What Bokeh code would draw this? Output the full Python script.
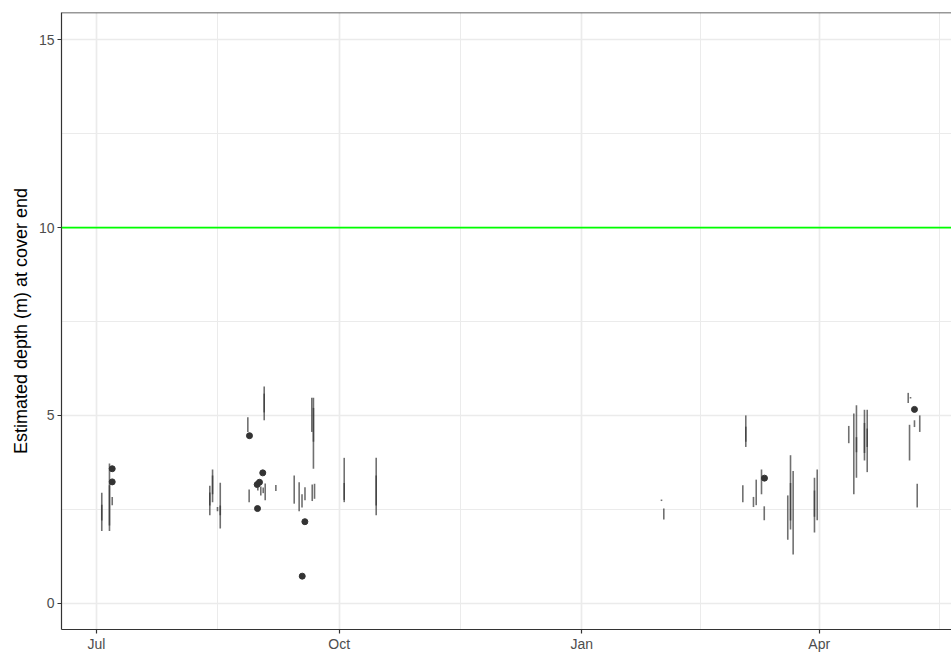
import pandas as pd
from bokeh.plotting import figure
from bokeh.models import ColumnDataSource, Range1d, FixedTicker, DatetimeTickFormatter, Span
from bokeh.embed import file_html
from bokeh.resources import INLINE

# ---- data: depth ranges (segments) ----
seg_dates = [
    "2020-07-03 00:00", "2020-07-03 00:00", "2020-07-05 22:00", "2020-07-05 22:00",
    "2020-07-06 23:00", "2020-08-12 23:00", "2020-08-12 23:00", "2020-08-14 00:00",
    "2020-08-14 00:00", "2020-08-15 21:00", "2020-08-16 22:00", "2020-08-16 22:00",
    "2020-08-27 09:00", "2020-08-27 21:00", "2020-08-31 04:00", "2020-09-01 07:00",
    "2020-09-02 05:00", "2020-09-02 14:00", "2020-09-02 14:00", "2020-09-02 23:00",
    "2020-09-07 00:00", "2020-09-13 23:00", "2020-09-15 20:00", "2020-09-16 22:00",
    "2020-09-18 01:00", "2020-09-20 15:00", "2020-09-20 19:00", "2020-09-21 06:00",
    "2020-09-21 06:00", "2020-09-21 16:00", "2020-10-02 22:00", "2020-10-02 22:00",
    "2020-10-15 01:00", "2020-10-15 01:00", "2021-01-31 05:00", "2021-02-01 02:00",
    "2021-03-03 01:00", "2021-03-04 04:00", "2021-03-04 04:00", "2021-03-07 02:00",
    "2021-03-08 03:00", "2021-03-10 03:00", "2021-03-11 04:00", "2021-03-20 02:00",
    "2021-03-21 03:00", "2021-03-21 03:00", "2021-03-22 03:00", "2021-03-30 05:00",
    "2021-03-30 05:00", "2021-03-31 06:00", "2021-04-12 05:00", "2021-04-14 03:00",
    "2021-04-15 03:00", "2021-04-15 03:00", "2021-04-18 04:00", "2021-04-18 04:00",
    "2021-04-19 05:00", "2021-04-19 05:00", "2021-05-04 18:00", "2021-05-05 06:00",
    "2021-05-05 15:00", "2021-05-07 03:00", "2021-05-08 04:00", "2021-05-09 03:00",
]
seg_low = [
    1.92, 2.20, 1.92, 2.07,
    2.61, 2.34, 2.60, 2.69,
    2.90, 2.45, 1.99, 2.34,
    4.56, 2.69, 3.00, 2.87,
    2.93, 4.87, 5.08, 2.74,
    2.99, 2.65, 2.45, 2.55,
    2.74, 4.56, 2.72, 3.58,
    4.30, 2.78, 2.69, 2.75,
    2.34, 2.60, 2.72, 2.23,
    2.69, 4.16, 4.30, 2.56,
    2.61, 2.90, 2.21, 1.69,
    1.96, 2.20, 1.30, 1.88,
    2.30, 2.21, 4.26, 2.90,
    3.34, 4.02, 3.80, 4.00,
    3.49, 4.16, 5.33, 3.80,
    5.45, 4.69, 2.55, 4.56,
]
seg_high = [
    2.94, 2.62, 3.72, 3.14,
    2.83, 3.13, 2.95, 3.56,
    3.40, 2.56, 3.21, 2.60,
    4.95, 3.03, 3.08, 3.11,
    3.08, 5.77, 5.58, 3.19,
    3.15, 3.40, 3.22, 2.90,
    3.09, 5.47, 3.16, 5.47,
    5.20, 3.18, 3.87, 3.20,
    3.87, 3.40, 2.76, 2.52,
    3.14, 5.00, 4.70, 2.83,
    3.29, 3.56, 2.58, 2.87,
    3.94, 3.20, 3.52, 3.34,
    3.00, 3.56, 4.72, 5.05,
    5.27, 4.42, 5.15, 4.80,
    5.15, 4.65, 5.60, 4.75,
    5.49, 4.87, 3.18, 5.00,
]

# ---- data: single estimates (points) ----
pt_dates = [
    "2020-07-06 23:00", "2020-07-06 23:00", "2020-08-28 00:00", "2020-08-30 22:00",
    "2020-08-31 19:00", "2020-09-02 01:00", "2020-08-31 01:00", "2020-09-18 00:00",
    "2020-09-17 00:00", "2021-03-11 06:00", "2021-05-07 03:00",
]
pt_values = [3.58, 3.23, 4.46, 3.16, 3.22, 3.47, 2.52, 2.17, 0.72, 3.33, 5.16]

threshold = 10

x_major = ["2020-07-01", "2020-10-01", "2021-01-01", "2021-04-01"]
x_minor = ["2020-08-16", "2020-11-16", "2021-02-15", "2021-05-16 12:00"]
y_major = [0, 5, 10, 15]
y_minor = [2.5, 7.5, 12.5]
y_title = "Estimated depth (m) at cover end"

Y_START, Y_END = -0.70, 15.727


def ms(s):
    return pd.Timestamp(s).value / 1e6


seg_src = ColumnDataSource(dict(x=pd.to_datetime(seg_dates), lo=seg_low, hi=seg_high))
pt_src = ColumnDataSource(dict(x=pd.to_datetime(pt_dates), y=pt_values))

p = figure(width=951, height=654, output_backend="svg", toolbar_location=None,
           x_axis_type="datetime",
           x_range=Range1d(pd.Timestamp("2020-07-01") - pd.Timedelta(days=13.27),
                           pd.Timestamp("2020-07-01") + pd.Timedelta(days=324.16)),
           y_range=Range1d(Y_START, Y_END),
           min_border_left=61, min_border_right=0, min_border_top=12, min_border_bottom=25)

p.background_fill_color = "white"
p.border_fill_color = "white"
p.outline_line_color = None

xt = FixedTicker(ticks=[ms(d) for d in x_major], minor_ticks=[ms(d) for d in x_minor])
yt = FixedTicker(ticks=y_major, minor_ticks=y_minor)
p.xaxis.ticker = xt
p.yaxis.ticker = yt
p.xgrid.ticker = xt
p.ygrid.ticker = yt

fmt = "%b"
p.xaxis.formatter = DatetimeTickFormatter(
    microseconds=fmt, milliseconds=fmt, seconds=fmt, minsec=fmt, minutes=fmt,
    hourmin=fmt, hours=fmt, days=fmt, months=fmt, years=fmt)

for g in (p.xgrid, p.ygrid):
    g.grid_line_color = "#EBEBEB"
    g.grid_line_width = 1.7
    g.minor_grid_line_color = "#EBEBEB"
    g.minor_grid_line_width = 1

for ax in (p.xaxis, p.yaxis):
    ax.axis_line_color = "#333333"
    ax.axis_line_width = 1.2
    ax.major_tick_line_color = "#333333"
    ax.major_tick_line_width = 1.2
    ax.major_tick_in = 0
    ax.major_tick_out = 4
    ax.minor_tick_line_color = None
    ax.major_label_text_color = "#4D4D4D"
    ax.major_label_text_font = "Liberation Sans"
    ax.major_label_text_font_size = "14px"

p.xaxis.major_label_standoff = 2
p.yaxis.major_label_standoff = 3

p.yaxis.axis_label = y_title
p.yaxis.axis_label_text_font = "Liberation Sans"
p.yaxis.axis_label_text_font_size = "18px"
p.yaxis.axis_label_text_font_style = "normal"
p.yaxis.axis_label_text_color = "black"
p.yaxis.axis_label_standoff = 5

# top panel border
p.add_layout(Span(location=Y_END, dimension="width", line_color="#333333", line_width=1.5))
# threshold line
p.add_layout(Span(location=threshold, dimension="width", line_color="#00FF00", line_width=1.6))

p.segment(x0="x", y0="lo", x1="x", y1="hi", source=seg_src,
          line_color="#333333", line_alpha=0.7, line_width=1.6)
p.scatter(x="x", y="y", source=pt_src, size=6, marker="circle",
          fill_color="#333333", line_color="#333333")

open("out.html", "w").write(file_html(p, INLINE))
